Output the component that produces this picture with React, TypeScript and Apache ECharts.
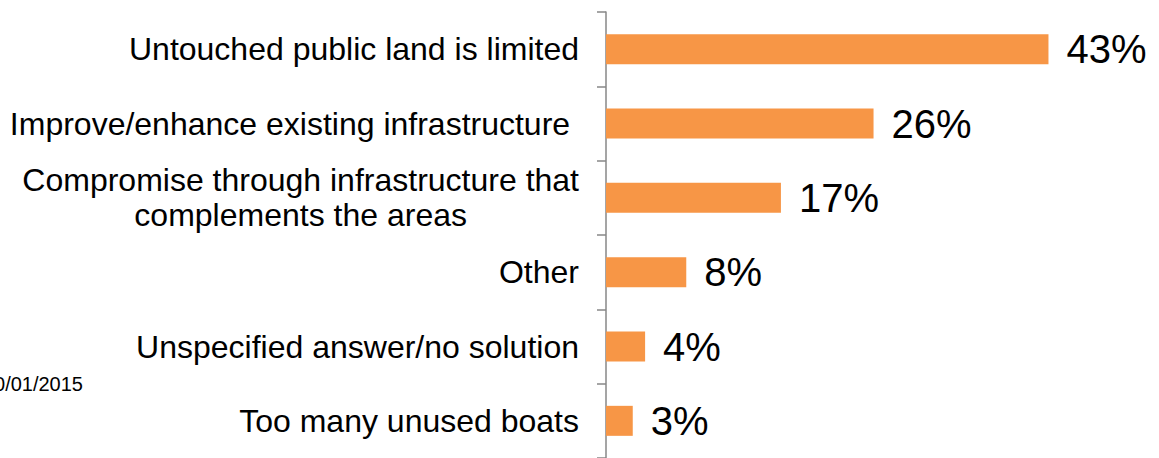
import React, { useEffect, useRef } from "react";
import * as echarts from "echarts";

const categories = [
  "Untouched public land is limited",
  "Improve/enhance existing infrastructure ",
  "Compromise through infrastructure that\ncomplements the areas",
  "Other",
  "Unspecified answer/no solution",
  "Too many unused boats",
];
const values = [43, 26, 17, 7.8, 3.8, 2.6];
const dateNote = "30/01/2015";

const FONT = "Arial, 'Liberation Sans', Helvetica, sans-serif";

export default function App() {
  const ref = useRef<HTMLDivElement>(null);
  useEffect(() => {
    if (!ref.current) return;
    const chart = echarts.init(ref.current, undefined, { renderer: "svg" });
    chart.setOption({
      animation: false,
      backgroundColor: "#ffffff",
      grid: { left: 606, top: 12, width: 514.5, height: 451, containLabel: false },
      xAxis: { type: "value", min: 0, max: 50, show: false },
      yAxis: {
        type: "category",
        inverse: true,
        data: categories,
        axisLine: { show: true, lineStyle: { color: "#878787", width: 1.5 } },
        axisTick: { show: true, length: 9, lineStyle: { color: "#878787", width: 1.5 } },
        splitLine: { show: false },
        axisLabel: {
          margin: 27,
          formatter: (v: string) => `{c|${v}}`,
          rich: {
            c: {
              align: "center",
              fontSize: 32,
              lineHeight: 35,
              color: "#000000",
              fontFamily: FONT,
            },
          },
        },
      },
      series: [
        {
          type: "bar",
          data: values,
          barWidth: 30,
          itemStyle: { color: "#F79646" },
          label: {
            show: true,
            position: "right",
            distance: 18,
            fontSize: 40,
            color: "#000000",
            fontFamily: FONT,
            formatter: (p: any) => `${Math.round(p.value)}%`,
          },
        },
      ],
      graphic: [
        {
          type: "text",
          x: 83,
          y: 384,
          style: {
            text: dateNote,
            align: "right",
            verticalAlign: "middle",
            fontSize: 20,
            fill: "#000000",
            fontFamily: FONT,
          },
        },
      ],
    });
    return () => chart.dispose();
  }, []);
  return (
    <div
      ref={ref}
      style={{ position: "fixed", left: 0, top: 0, width: 1159, height: 458 }}
    />
  );
}
